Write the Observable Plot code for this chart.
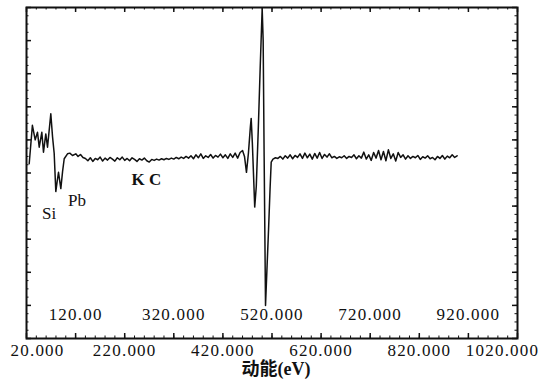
<!DOCTYPE html>
<html>
<head>
<meta charset="utf-8">
<script src="https://cdn.jsdelivr.net/npm/d3@7"></script>
<script src="https://cdn.jsdelivr.net/npm/@observablehq/plot@0.6"></script>
<style>
  html, body { margin: 0; padding: 0; background: #fff; }
  .ticklab text, text.ticklab { letter-spacing: 1.2px; }
</style>
</head>
<body>
<div id="chart"></div>
<script>
// Kinetic energy (eV) and dN/dE signal (arbitrary units)
const energy = [
  25.5, 32, 37.7, 42.4, 45.9, 51.2, 54.6, 59.3, 62.8, 69.5, 73, 76.4, 79.7, 82.5, 85.2, 89.9, 93.5, 96.8, 103.5, 108.2, 113.7, 120.4,
  125, 130, 135, 140, 145, 150, 155, 160, 165, 170, 175, 180, 185, 190, 195, 200, 205, 210, 215, 220, 225, 230, 235, 240, 245,
  250, 255, 260, 265, 270, 275, 280, 285, 290, 295, 300, 305, 310, 315, 320, 325, 330, 335, 340, 345, 350, 355, 360, 365, 370,
  375, 380, 385, 390, 395, 400, 405, 410, 415, 420, 425, 430, 435, 440, 445, 450, 455, 460,
  464, 468, 472, 476, 477.6, 480, 484.8, 488, 492, 496, 500, 502, 504, 506.8, 510, 513, 516, 518.4, 522, 527,
  532, 537, 542, 547, 552, 557, 562, 567, 572, 577, 582, 587, 592, 597, 602, 607, 612, 617, 622, 627, 632, 637, 642, 647, 652,
  657, 662, 667, 672, 677, 682, 687, 692, 697, 702, 707, 712, 717, 722, 727, 732, 737, 742, 747, 752, 757, 762, 767, 772, 777,
  782, 787, 792, 797, 802, 807, 812, 817, 822, 827, 832, 837, 842, 847, 852, 857, 862, 867, 872, 877, 882, 887, 892, 897
];
const signal = [
  5.28, 6.44, 6.00, 6.23, 5.78, 6.23, 5.63, 6.18, 5.78, 6.79, 6.10, 5.59, 4.44, 4.75, 5.02, 4.53, 5.05, 5.43, 5.58, 5.60, 5.53, 5.58,
  5.50, 5.56, 5.47, 5.44, 5.37, 5.46, 5.35, 5.44, 5.40, 5.48, 5.36, 5.45, 5.39, 5.47, 5.42, 5.36, 5.46, 5.40, 5.48, 5.38, 5.44, 5.37, 5.46, 5.41, 5.35,
  5.43, 5.39, 5.45, 5.37, 5.33, 5.41, 5.38, 5.42, 5.39, 5.43, 5.40, 5.44, 5.41, 5.45, 5.42, 5.47, 5.43, 5.48, 5.44, 5.50, 5.45, 5.52, 5.43, 5.55, 5.46,
  5.58, 5.44, 5.52, 5.47, 5.56, 5.45, 5.53, 5.48, 5.57, 5.46, 5.55, 5.44, 5.58, 5.47, 5.60, 5.45, 5.62, 5.68,
  5.50, 5.02, 5.60, 6.40, 6.65, 5.90, 3.97, 4.60, 6.30, 8.20, 9.97, 9.00, 5.50, 1.00, 2.20, 3.30, 4.50, 5.33, 5.42, 5.46,
  5.44, 5.50, 5.42, 5.52, 5.45, 5.55, 5.43, 5.53, 5.47, 5.58, 5.44, 5.60, 5.46, 5.57, 5.42, 5.59, 5.45, 5.62, 5.44, 5.56, 5.48, 5.58, 5.46, 5.50, 5.44,
  5.49, 5.46, 5.52, 5.44, 5.50, 5.47, 5.55, 5.43, 5.52, 5.45, 5.63, 5.42, 5.55, 5.38, 5.62, 5.45, 5.68, 5.40, 5.65, 5.37, 5.70, 5.44, 5.58, 5.36, 5.62,
  5.47, 5.55, 5.42, 5.52, 5.44, 5.50, 5.46, 5.53, 5.41, 5.49, 5.45, 5.52, 5.43, 5.47, 5.40, 5.50, 5.44, 5.53, 5.42, 5.51, 5.46, 5.55, 5.47, 5.52
];

// Axis tick values and labels
const xTicks = [20, 120, 220, 320, 420, 520, 620, 720, 820, 920, 1020];
const yTicks = [0, 1, 2, 3, 4, 5, 6, 7, 8, 9, 10];
const outerTickValues = [20, 220, 420, 620, 820, 1020];
const outerTickLabels = ["20.000", "220.000", "420.000", "620.000", "820.000", "1020.000"];
const innerTickValues = [120, 320, 520, 720, 920];
const innerTickLabels = ["120.00", "320.000", "520.000", "720.000", "920.000"];

// Peak annotations
const peakLabels = ["Si", "Pb", "K C"];
const peakLabelX = [66, 123, 264];
const peakLabelY = [3.78, 4.17, 4.80];

const data = energy.map((e, i) => ({e, v: signal[i]}));
const outer = outerTickValues.map((x, i) => ({x, label: outerTickLabels[i]}));
const inner = innerTickValues.map((x, i) => ({x, label: innerTickLabels[i]}));
const peaks = peakLabels.map((t, i) => ({t, x: peakLabelX[i], y: peakLabelY[i]}));
const xMinor = d3.range(20, 1021, 20);
const yMinor = d3.range(0, 10.01, 0.25);

const W = 544, H = 388, mT = 7, mB = 50, mL = 26, mR = 27;
const fw = W - mL - mR, fh = H - mT - mB;
const serif = "'Liberation Serif', 'DejaVu Serif', 'Noto Sans CJK SC', serif";

const chart = Plot.plot({
  width: W, height: H,
  marginTop: mT, marginBottom: mB, marginLeft: mL, marginRight: mR,
  style: {fontFamily: serif, background: "#fff", color: "#111"},
  x: {domain: [20, 1020], axis: null},
  y: {domain: [0, 10], axis: null},
  marks: [
    // minor ticks
    Plot.ruleX(xMinor, {x: d => d, insetTop: fh - 2.5, stroke: "#111", strokeWidth: 1}),
    Plot.ruleX(xMinor, {x: d => d, insetBottom: fh - 2.5, stroke: "#111", strokeWidth: 1}),
    Plot.ruleY(yMinor, {y: d => d, insetRight: fw - 2.5, stroke: "#111", strokeWidth: 1}),
    Plot.ruleY(yMinor, {y: d => d, insetLeft: fw - 2.5, stroke: "#111", strokeWidth: 1}),
    // major ticks
    Plot.ruleX(xTicks, {x: d => d, insetTop: fh - 5, stroke: "#111", strokeWidth: 1.5}),
    Plot.ruleX(xTicks, {x: d => d, insetBottom: fh - 5, stroke: "#111", strokeWidth: 1.5}),
    Plot.ruleY(yTicks, {y: d => d, insetRight: fw - 5, stroke: "#111", strokeWidth: 1.5}),
    Plot.ruleY(yTicks, {y: d => d, insetLeft: fw - 5, stroke: "#111", strokeWidth: 1.5}),
    Plot.frame({stroke: "#111", strokeWidth: 2}),
    // spectrum
    Plot.line(data, {x: "e", y: "v", stroke: "#111", strokeWidth: 1.5, strokeLinejoin: "round"}),
    // peak labels
    Plot.text(peaks.slice(0, 2), {x: "x", y: "y", text: "t", fontSize: 17, fill: "#111"}),
    Plot.text(peaks.slice(2), {x: "x", y: "y", text: "t", fontSize: 17, fontWeight: "bold", fill: "#111"}),
    // inner tick labels
    Plot.text(inner, {x: "x", text: "label", frameAnchor: "bottom", dy: -19, fontSize: 17, fill: "#111", className: "ticklab"}),
    // outer tick labels
    Plot.text(outer.slice(1, -1), {x: "x", text: "label", frameAnchor: "bottom", dy: 17, fontSize: 17, fill: "#111", className: "ticklab"}),
    Plot.text(outer.slice(0, 1), {x: "x", text: "label", frameAnchor: "bottom", dy: 17, dx: 11, fontSize: 17, fill: "#111", className: "ticklab"}),
    Plot.text(outer.slice(-1), {x: "x", text: "label", frameAnchor: "bottom", dy: 17, dx: -15, fontSize: 17, fill: "#111", className: "ticklab"}),
    // axis title
    Plot.text(["动能(eV)"], {frameAnchor: "bottom", dy: 36, dx: 4, fontSize: 18, fontWeight: "bold", fill: "#111"})
  ]
});
document.getElementById("chart").append(chart);
</script>
</body>
</html>
